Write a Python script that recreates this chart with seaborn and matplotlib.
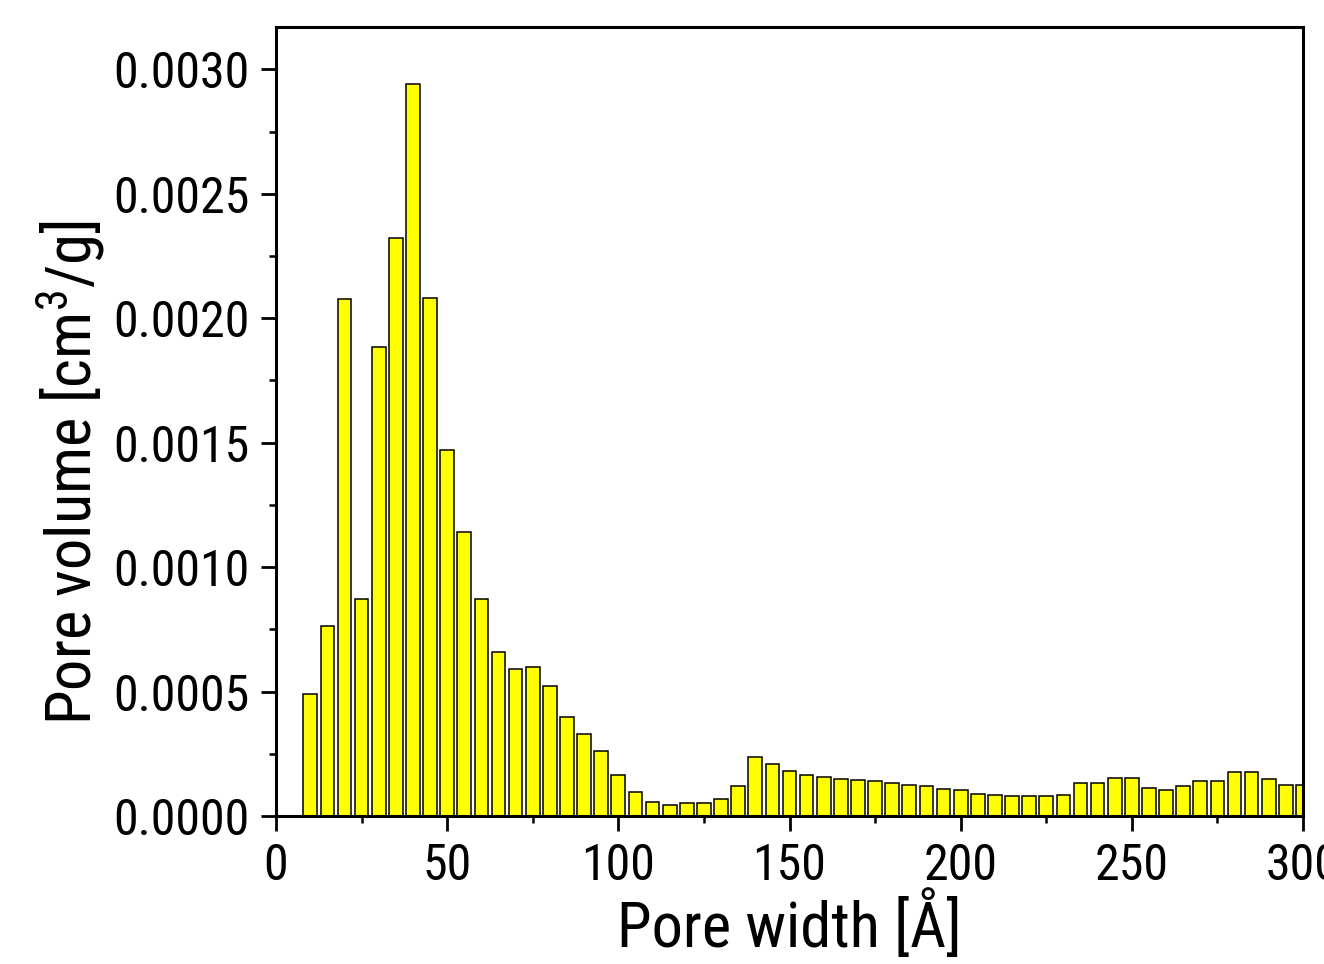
import numpy as np
import pandas as pd
import matplotlib
matplotlib.use("Agg")
import matplotlib.pyplot as plt
from matplotlib import font_manager
from matplotlib.ticker import MultipleLocator, FormatStrFormatter
import seaborn as sns

# Pore size distribution values
pore_width = [10, 15, 20, 25, 30, 35, 40, 45, 50, 55, 60, 65, 70, 75, 80, 85, 90, 95, 100,
              105, 110, 115, 120, 125, 130, 135, 140, 145, 150, 155, 160, 165, 170, 175, 180,
              185, 190, 195, 200, 205, 210, 215, 220, 225, 230, 235, 240, 245, 250, 255, 260,
              265, 270, 275, 280, 285, 290, 295, 300]
pore_volume = [0.000491, 0.000765, 0.002078, 0.000870, 0.001883, 0.002322, 0.002941, 0.002082,
               0.001471, 0.001142, 0.000871, 0.000657, 0.000592, 0.000600, 0.000521, 0.000399,
               0.000331, 0.000263, 0.000164,
               0.0000953, 0.0000551, 0.0000455, 0.0000511, 0.0000535, 0.0000672, 0.000119,
               0.000236, 0.000208, 0.000182, 0.000166, 0.000158, 0.000150, 0.000146, 0.000142,
               0.000131, 0.000126, 0.000119, 0.000110, 0.000106, 0.0000885, 0.0000857,
               0.0000817, 0.0000817, 0.0000791, 0.0000857, 0.000134, 0.000134, 0.000151,
               0.000151, 0.000114, 0.000103, 0.000119, 0.000139, 0.000142, 0.000178, 0.000178,
               0.000150, 0.000126, 0.000126]

df = pd.DataFrame({"width": pore_width, "volume": pore_volume})

# the original uses a narrow font; use one if there is one, else shrink Liberation Sans
installed = {f.name for f in font_manager.fontManager.ttflist}
narrow = [n for n in ("Liberation Sans Narrow", "Arial Narrow", "Roboto Condensed",
                      "Open Sans Condensed") if n in installed]
if narrow:
    family, tick_size, label_size = narrow[0], 36, 45
else:
    family, tick_size, label_size = "Liberation Sans", 30, 40

sns.set_style("ticks")
plt.rcParams["font.family"] = [family, "DejaVu Sans"]
plt.rcParams["mathtext.fontset"] = "custom"
plt.rcParams["mathtext.rm"] = family

fig = plt.figure(figsize=(13.24, 9.64), dpi=100)
ax = fig.add_axes([276 / 1324, 1 - 816 / 964, (1303 - 276) / 1324, (816 - 27) / 964])

sns.barplot(data=df, x="width", y="volume", native_scale=True, width=0.8,
            color="#ffff00", saturation=1, edgecolor="black", linewidth=1.1, ax=ax)

ax.set_xlim(0, 300)
ax.set_ylim(0, 0.00317)
ax.xaxis.set_major_locator(MultipleLocator(50))
ax.xaxis.set_minor_locator(MultipleLocator(25))
ax.yaxis.set_major_locator(MultipleLocator(0.0005))
ax.yaxis.set_minor_locator(MultipleLocator(0.00025))
ax.yaxis.set_major_formatter(FormatStrFormatter("%.4f"))

ax.tick_params(which="major", direction="out", length=11, width=2, labelsize=tick_size,
               colors="black", top=False, right=False)
ax.tick_params(which="minor", direction="out", length=5, width=1.8, colors="black",
               top=False, right=False)
ax.tick_params(axis="x", which="major", pad=8)
ax.tick_params(axis="y", which="major", pad=8)
for s in ax.spines.values():
    s.set_linewidth(2.2)
    s.set_color("black")
    s.set_visible(True)

ax.set_xlabel("Pore width [Å]", fontsize=label_size, color="black", labelpad=0)
ax.set_ylabel("Pore volume [cm$\\mathregular{^3}$/g]", fontsize=label_size, color="black")
ax.yaxis.set_label_coords(-0.165, 0.435)

fig.savefig("out.png", dpi=100)
